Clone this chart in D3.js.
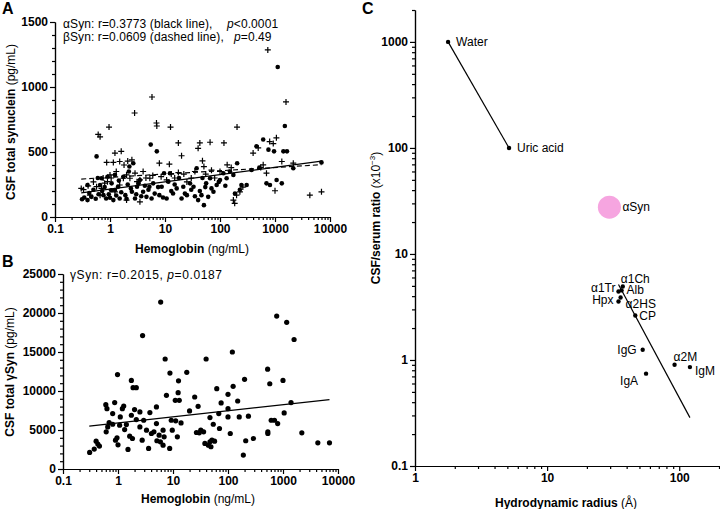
<!DOCTYPE html>
<html>
<head>
<meta charset="utf-8">
<script src="https://cdn.jsdelivr.net/npm/d3@7"></script>
<style>
  body { margin: 0; background: #fff; }
  svg { font-family: "Liberation Sans", Arial, sans-serif; }
  .axis path, .axis line { stroke: #000; stroke-width: 1.2; }
  .axis text { fill: #000; font-size: 12px; font-weight: bold; }
  .note { font-size: 12px; letter-spacing: 0.1px; }
  .note.wide { letter-spacing: 0.6px; }
  .title { font-size: 12px; }
  .panel-tag { font-size: 16px; font-weight: bold; }
  .lbl { font-size: 12px; }
</style>
</head>
<body>
<svg id="chart" width="720" height="509"></svg>
<script>
// ---- panel A: CSF alpha / beta synuclein vs hemoglobin ----
const alphaPts = [
  [0.31,137],[0.34,150],[0.39,130],[0.39,246],[0.42,185],[0.46,155],[0.5,210],[0.55,140],
  [0.57,466],[0.6,300],[0.62,175],[0.66,246],[0.7,298],[0.72,200],[0.76,168],[0.8,230],
  [0.85,142],[0.9,310],[0.95,175],[1.0,148],[1.05,205],[1.07,259],[1.15,130],[1.23,324],
  [1.23,207],[1.3,165],[1.4,233],[1.45,280],[1.5,142],[1.6,190],[1.75,310],[1.9,168],
  [2.0,140],[2.1,250],[2.2,350],[2.25,388],[2.4,220],[2.5,194],[2.65,414],[2.85,142],
  [3.0,175],[3.1,233],[3.3,260],[3.5,285],[3.7,160],[4.0,194],[4.3,240],[4.6,155],
  [5.0,210],[5.2,233],[5.5,557],[5.7,142],[6.1,259],[6.5,180],[7.1,505],[7.5,230],
  [7.9,168],[8.7,233],[9.2,150],[9.6,337],[10.7,142],[11.5,272],[12.3,337],[13,200],
  [14,181],[15,250],[16.3,220],[18,300],[20,142],[21.5,233],[23,180],[25,168],
  [28.5,259],[30,210],[33,233],[35,160],[37.6,375],[40,130],[43,200],[46,168],
  [48,300],[51,91],[54,230],[56,259],[61,155],[66,298],[70,220],[76,194],
  [87,246],[95,270],[100,285],[115,337],[125,240],[132,298],[152,350],[175,324],
  [187,181],[205,414],[230,210],[245,246],[305,246],[375,362],[460,544],[520,380],
  [610,596],[700,259],[760,518],[810,246],[960,505],[1070,285],[1120,1154],[1330,259],
  [1420,505],[1510,700],[1650,505],[2150,375],[7000,420]
];
const betaPts = [
  [0.3,220],[0.33,210],[0.4,240],[0.43,168],[0.5,270],[0.57,233],[0.61,635],[0.66,617],
  [0.66,168],[0.7,220],[0.75,300],[0.8,260],[0.87,420],[0.9,272],[0.96,692],[1.0,324],
  [1.05,300],[1.15,420],[1.23,194],[1.23,492],[1.3,350],[1.5,246],[1.5,427],[1.6,505],
  [1.75,298],[1.8,400],[2.0,324],[2.0,130],[2.1,430],[2.3,298],[2.5,440],[2.8,800],
  [2.85,337],[3.1,272],[3.5,117],[3.5,285],[4.0,350],[4.5,300],[5.3,298],[5.8,923],
  [6.0,320],[7.0,723],[7.1,700],[7.9,414],[8.5,310],[10.7,285],[12,406],[12.6,692],
  [13,330],[15,300],[17.5,570],[17.5,342],[20,471],[22,330],[25,270],[30,300],
  [35,350],[40,528],[43,570],[48,432],[51,388],[55,330],[66,575],[70,360],
  [80,300],[100,350],[118,570],[135,401],[160,380],[175,130],[185,105],[200,168],
  [204,692],[230,194],[260,230],[400,492],[495,531],[550,380],[610,401],[700,337],
  [740,1285],[800,580],[930,565],[1000,202],[1060,609],[1330,427],[1585,885],[2150,414],
  [4300,168],[7000,194]
];
const alphaFit = [[0.3,185],[7000,430]];
const betaFit = [[0.3,292],[7000,402]];

// ---- panel B: CSF gamma synuclein vs hemoglobin ----
const gammaPts = [
  [0.305,2130],[0.37,2550],[0.4,3570],[0.43,3190],[0.46,2940],[0.6,8250],[0.63,7740],[0.61,4770],
  [0.65,5400],[0.69,5960],[0.8,7100],[0.8,5740],[0.87,8510],[0.9,3700],[0.96,4000],[1.0,3100],
  [0.98,12100],[1.07,5620],[1.1,6680],[1.2,7740],[1.27,8080],[1.32,5060],[1.42,5700],[1.52,2510],
  [1.63,4210],[1.75,11360],[1.88,10430],[2.15,10430],[1.75,6890],[1.83,3910],[2.0,7620],[2.15,6340],
  [2.5,7320],[2.5,5400],[2.75,3700],[2.8,17100],[2.93,6250],[3.3,4980],[3.6,2640],[3.8,7230],
  [4.05,4550],[4.5,4770],[5.0,7960],[5.0,5830],[5.1,3620],[5.6,4340],[5.9,3490],[5.97,21400],
  [6.6,4980],[6.6,3060],[6.9,4130],[7.2,14100],[7.6,9450],[8.7,2640],[8.8,12300],[9.3,6250],
  [9.7,4980],[11,8810],[11.2,6170],[12,4130],[12.4,9790],[12.6,11300],[13,8810],[14,5910],
  [17.8,12400],[20,7450],[24.8,9230],[26.7,4680],[28.6,8040],[30,4640],[32,4980],[36,4770],
  [38,3280],[40,14100],[44,3060],[47,6590],[47,3490],[49,2850],[51,3700],[54,5740],
  [57,3570],[62.5,10300],[68,7100],[70,5190],[75,8470],[100,9570],[100,6680],[100,7740],
  [110,4550],[120,15000],[124,10600],[150,8720],[160,6680],[190,1790],[200,11500],[210,3620],
  [235,6770],[290,3910],[525,12800],[530,4550],[530,4770],[575,10930],[610,6250],[700,6250],
  [768,19600],[800,5830],[1000,11360],[1050,7190],[1167,18800],[1400,8510],[1590,16600],[2200,4640],
  [4300,3360],[7000,3360]
];
const gammaFit = [[0.3,5500],[7000,8900]];

// ---- panel C: CSF/serum ratio vs hydrodynamic radius ----
const molecules = ["Water","Uric acid","\u03b1Syn","\u03b11Ch","Alb","\u03b11Tr","\u03b12HS","Hpx","CP","IgG","IgA","\u03b12M","IgM"];
const radius    = [1.78, 5.15, 29.6, 37.4, 36.6, 34.7, 36.0, 34.7, 46.5, 52.9, 56.1, 92.2, 120.5];
const ratio     = [1000, 100, 27.6, 4.94, 4.53, 4.43, 3.89, 3.56, 2.63, 1.25, 0.743, 0.903, 0.857];
const smallMolFit = [[1.78,1000],[5.15,100]];
const proteinFit = [[34.7,5.15],[120.5,0.286]];

// label placement for panel C (offset from point, anchor)
const labelPos = {
  "Water": [8, 4, "start"], "Uric acid": [8, 4, "start"], "\u03b1Syn": [13, 4, "start"],
  "\u03b11Ch": [-2, -3, "start"], "Alb": [5, 4, "start"], "\u03b11Tr": [-3, 1, "end"],
  "\u03b12HS": [5, 11, "start"], "Hpx": [-5, 2, "end"], "CP": [4, 5, "start"],
  "IgG": [-6, 4, "end"], "IgA": [-8, 11, "end"], "\u03b12M": [-1, -4, "start"], "IgM": [5, 8, "start"]
};

const svg = d3.select("#chart");
svg.append("rect").attr("width", 720).attr("height", 509).attr("fill", "#fff");

function axisPair(g, make, scale, majors, minors, fmt) {
  g.append("g").attr("class", "axis")
   .call(make(scale).tickValues(minors).tickSize(3).tickSizeOuter(0).tickFormat(""));
  g.append("g").attr("class", "axis")
   .call(make(scale).tickValues(majors).tickSize(5).tickSizeOuter(0).tickPadding(2).tickFormat(fmt));
  g.selectAll(".axis").attr("font-family", null).attr("font-size", null);
}

const fmt = d3.format("~g");
const decadeMinors = s => s.ticks().filter(v => Math.abs(Math.log10(v) - Math.round(Math.log10(v))) > 1e-6);

// ---------- A ----------
const xA = d3.scaleLog().domain([0.1, 10000]).range([55, 330]);
const yA = d3.scaleLinear().domain([0, 1500]).range([217, 22]);
const hbMajors = [0.1, 1, 10, 100, 1000, 10000];

axisPair(svg.append("g").attr("transform", "translate(0,217)"), d3.axisBottom, xA,
         hbMajors, decadeMinors(xA), fmt);
axisPair(svg.append("g").attr("transform", "translate(55,0)"), d3.axisLeft, yA,
         [0, 500, 1000, 1500], d3.range(0, 1501, 100).filter(v => v % 500), fmt);

const line = (xs, ys) => d3.line().x(d => xs(d[0])).y(d => ys(d[1]));

svg.append("g").selectAll("circle").data(alphaPts).join("circle")
   .attr("cx", d => xA(d[0])).attr("cy", d => yA(d[1])).attr("r", 2.3).attr("fill", "#000");
svg.append("g").selectAll("path").data(betaPts).join("path")
   .attr("transform", d => `translate(${xA(d[0])},${yA(d[1])})`)
   .attr("d", "M-3,0H3M0,-3V3").attr("stroke", "#000").attr("stroke-width", 1.2);

svg.append("path").datum(alphaFit).attr("d", line(xA, yA))
   .attr("stroke", "#000").attr("stroke-width", 1.2).attr("fill", "none");
svg.append("path").datum(betaFit).attr("d", line(xA, yA))
   .attr("stroke", "#000").attr("stroke-width", 1.2).attr("fill", "none")
   .attr("stroke-dasharray", "5,3");

const noteA1 = svg.append("text").attr("class", "note").attr("x", 63).attr("y", 28);
noteA1.append("tspan").text("\u03b1Syn: r=0.3773 (black line),");
noteA1.append("tspan").attr("x", 227).attr("font-style", "italic").text("p");
noteA1.append("tspan").text("<0.0001");
const noteA2 = svg.append("text").attr("class", "note").attr("x", 63).attr("y", 41);
noteA2.append("tspan").text("\u03b2Syn: r=0.0609 (dashed line),");
noteA2.append("tspan").attr("x", 234).attr("font-style", "italic").text("p");
noteA2.append("tspan").text("=0.49");

const xtA = svg.append("text").attr("class", "title").attr("x", 192).attr("y", 253)
   .attr("text-anchor", "middle");
xtA.append("tspan").attr("font-weight", "bold").text("Hemoglobin ");
xtA.append("tspan").text("(ng/mL)");
const ytA = svg.append("text").attr("class", "title").attr("text-anchor", "middle")
   .attr("transform", "translate(15,122) rotate(-90)");
ytA.append("tspan").attr("font-weight", "bold").text("CSF total synuclein ");
ytA.append("tspan").text("(pg/mL)");
svg.append("text").attr("class", "panel-tag").attr("x", 2).attr("y", 14).text("A");

// ---------- B ----------
const xB = d3.scaleLog().domain([0.1, 10000]).range([63, 338]);
const yB = d3.scaleLinear().domain([0, 25000]).range([469, 274]);

axisPair(svg.append("g").attr("transform", "translate(0,469)"), d3.axisBottom, xB,
         hbMajors, decadeMinors(xB), fmt);
axisPair(svg.append("g").attr("transform", "translate(63,0)"), d3.axisLeft, yB,
         d3.range(0, 25001, 5000), d3.range(0, 25001, 1000).filter(v => v % 5000), fmt);

svg.append("g").selectAll("circle").data(gammaPts).join("circle")
   .attr("cx", d => xB(d[0])).attr("cy", d => yB(d[1])).attr("r", 2.6).attr("fill", "#000");
svg.append("path").datum(gammaFit).attr("d", line(xB, yB))
   .attr("stroke", "#000").attr("stroke-width", 1.2).attr("fill", "none");

const noteB = svg.append("text").attr("class", "note wide").attr("x", 70).attr("y", 279);
noteB.append("tspan").text("\u03b3Syn: r=0.2015, ");
noteB.append("tspan").attr("font-style", "italic").text("p");
noteB.append("tspan").text("=0.0187");

const xtB = svg.append("text").attr("class", "title").attr("x", 198).attr("y", 503)
   .attr("text-anchor", "middle");
xtB.append("tspan").attr("font-weight", "bold").text("Hemoglobin ");
xtB.append("tspan").text("(ng/mL)");
const ytB = svg.append("text").attr("class", "title").attr("text-anchor", "middle")
   .attr("transform", "translate(14,372) rotate(-90)");
ytB.append("tspan").attr("font-weight", "bold").text("CSF total \u03b3Syn ");
ytB.append("tspan").text("(pg/mL)");
svg.append("text").attr("class", "panel-tag").attr("x", 2).attr("y", 267).text("B");

// ---------- C ----------
const xC = d3.scaleLog().domain([1, 200]).range([415, 719]);
const yC = d3.scaleLog().domain([0.1, 2000]).range([466, 10]);

axisPair(svg.append("g").attr("transform", "translate(0,466)"), d3.axisBottom, xC,
         [1, 10, 100], decadeMinors(xC), fmt);
axisPair(svg.append("g").attr("transform", "translate(415,0)"), d3.axisLeft, yC,
         [0.1, 1, 10, 100, 1000], decadeMinors(yC), fmt);

svg.append("path").datum(smallMolFit).attr("d", line(xC, yC))
   .attr("stroke", "#000").attr("stroke-width", 1.2).attr("fill", "none");
svg.append("path").datum(proteinFit).attr("d", line(xC, yC))
   .attr("stroke", "#000").attr("stroke-width", 1.2).attr("fill", "none");

const pts = molecules.map((m, i) => ({ name: m, r: radius[i], v: ratio[i] }));
svg.append("g").selectAll("circle").data(pts).join("circle")
   .attr("cx", d => xC(d.r)).attr("cy", d => yC(d.v))
   .attr("r", d => d.name === "\u03b1Syn" ? 11.5 : 2.2)
   .attr("fill", d => d.name === "\u03b1Syn" ? "#f6a5e0" : "#000");
svg.append("g").selectAll("text").data(pts).join("text")
   .attr("class", "lbl")
   .attr("x", d => xC(d.r) + labelPos[d.name][0])
   .attr("y", d => yC(d.v) + labelPos[d.name][1])
   .attr("text-anchor", d => labelPos[d.name][2])
   .text(d => d.name);

const xtC = svg.append("text").attr("class", "title").attr("x", 566).attr("y", 507)
   .attr("text-anchor", "middle");
xtC.append("tspan").attr("font-weight", "bold").text("Hydrodynamic radius ");
xtC.append("tspan").text("(\u00c5)");
const ytC = svg.append("text").attr("class", "title").attr("text-anchor", "middle")
   .attr("transform", "translate(380,218) rotate(-90)");
ytC.append("tspan").attr("font-weight", "bold").text("CSF/serum ratio ");
ytC.append("tspan").text("(x10");
ytC.append("tspan").attr("font-size", "8px").attr("dy", -5).text("\u22123");
ytC.append("tspan").attr("dy", 5).text(")");
svg.append("text").attr("class", "panel-tag").attr("x", 362).attr("y", 14).text("C");
</script>
</body>
</html>
